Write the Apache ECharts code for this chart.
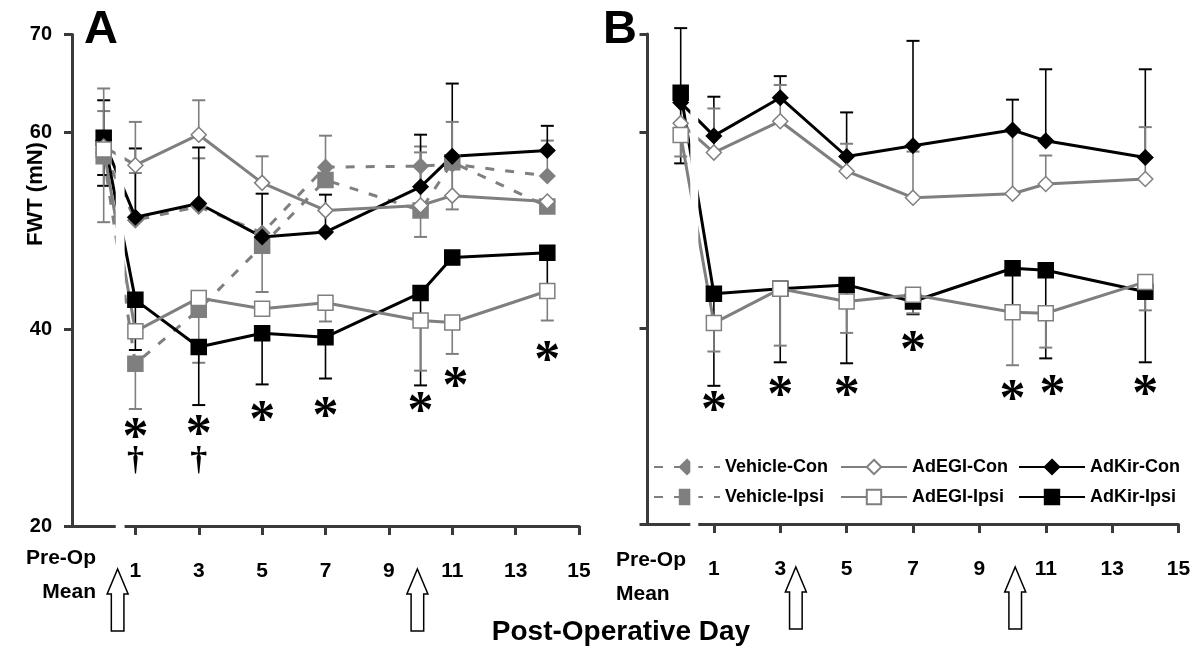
<!DOCTYPE html>
<html><head><meta charset="utf-8">
<script src="https://cdn.jsdelivr.net/npm/echarts@6/dist/echarts.min.js"></script>
<style>html,body{margin:0;padding:0;background:#fff}#c{width:1200px;height:665px}</style>
</head><body><div id="c"></div>
<script>
// ---------- data ----------
const days = [0, 1, 3, 5, 7, 10, 11, 14];
const xTicks = [1, 3, 5, 7, 9, 11, 13, 15];
const yTicks = [20, 40, 60, 70];

// Panel A means
const A_vehCon  = [58.0, 51.1, 52.5, 49.8, 56.5, 56.6, 56.8, 55.6];
const A_vehIpsi = [57.6, 36.5, 42.0, 48.5, 55.2, 52.1, 57.0, 52.5];
const A_egiCon  = [58.6, 56.7, 59.8, 54.9, 52.1, 52.6, 53.6, 53.0];
const A_egiIpsi = [58.3, 39.8, 43.2, 42.1, 42.7, 40.9, 40.7, 43.9];
const A_kirCon  = [59.2, 51.4, 52.8, 49.4, 49.9, 54.5, 57.6, 58.2];
const A_kirIpsi = [59.5, 43.0, 38.2, 39.6, 39.2, 43.7, 47.3, 47.8];
// Panel A error bars (upper / lower half-lengths)
const A_vehCon_up  = [4.2, 4.8, 4.9, 0, 3.2, 2.0, 0, 3.6];
const A_vehCon_dn  = [0, 0, 0, 0, 0, 0, 0, 0];
const A_vehIpsi_up = [0, 0, 0, 0, 0, 0, 0, 0];
const A_vehIpsi_dn = [0, 4.6, 5.4, 4.7, 0, 2.7, 4.8, 0];
const A_egiCon_up  = [5.9, 4.4, 3.5, 2.7, 0, 5.4, 7.5, 0];
const A_egiCon_dn  = [0, 0, 0, 0, 0, 0, 0, 0];
const A_egiIpsi_up = [0, 0, 0, 0, 0, 0, 0, 0];
const A_egiIpsi_dn = [7.4, 0, 0, 0, 1.9, 5.1, 3.2, 3.0];
const A_kirCon_up  = [4.1, 7.0, 5.7, 4.4, 3.8, 5.3, 7.4, 2.5];
const A_kirCon_dn  = [4.6, 0, 0, 0, 0, 0, 0, 0];
const A_kirIpsi_up = [0, 0, 0, 0, 0, 0, 0, 0];
const A_kirIpsi_dn = [3.8, 5.1, 5.9, 5.2, 4.2, 9.4, 0, 3.9];

// Panel B means
const B_egiCon  = [60.9, 57.9, 61.1, 56.0, 53.3, 53.7, 54.7, 55.2];
const B_egiIpsi = [59.7, 40.5, 44.0, 42.7, 43.4, 41.6, 41.5, 44.7];
const B_kirCon  = [63.0, 59.6, 63.5, 57.5, 58.6, 60.2, 59.1, 57.4];
const B_kirIpsi = [64.0, 43.5, 44.0, 44.4, 42.7, 46.1, 45.9, 43.7];
// Panel B error bars
const B_egiCon_up  = [0, 4.5, 3.7, 2.8, 4.7, 6.5, 2.9, 5.3];
const B_egiCon_dn  = [0, 0, 0, 0, 0, 0, 0, 0];
const B_egiIpsi_up = [0, 0, 0, 0, 0, 0, 0, 0];
const B_egiIpsi_dn = [2.2, 2.9, 5.8, 3.2, 1.9, 5.4, 3.5, 2.9];
const B_kirCon_up  = [0, 4.0, 2.2, 4.5, 10.7, 3.1, 7.3, 9.0];
const B_kirCon_dn  = [6.2, 0, 0, 0, 0, 0, 0, 0];
const B_kirIpsi_up = [6.6, 0, 0, 0, 0, 0, 0, 0];
const B_kirIpsi_dn = [0, 9.4, 7.5, 8.0, 1.3, 4.5, 9.0, 7.2];

// significance marks
const A_starDays = [1, 3, 5, 7, 10, 11.1, 14];
const A_starY    = [29.8, 30.1, 31.5, 31.9, 32.5, 35.0, 37.6];
const A_dagDays  = [1, 3];
const A_dagY     = [26.6, 26.6];
const B_starDays = [1, 3, 5, 7, 10, 11.2, 14];
const B_starY    = [32.4, 33.9, 33.9, 38.5, 33.5, 34.0, 34.0];
// injection arrows (day positions)
const A_arrowDays = [0.44, 9.9];
const B_arrowDays = [3.47, 10.08];
// axis break ranges
const A_break = [0.38, 0.66];
const B_break = [0.29, 0.53];

// ---------- styles ----------
const FONT = "'Liberation Sans', Arial, sans-serif";
const GRAY = '#7f7f7f';
const AXC = '#3a3a3a';
const styles = {
  'Vehicle-Con':  {symbol: 'diamond', size: 15, fill: GRAY, border: GRAY, line: GRAY, dash: [9, 11]},
  'Vehicle-Ipsi': {symbol: 'rect', size: 15, fill: GRAY, border: GRAY, line: GRAY, dash: [9, 11]},
  'AdEGI-Con':    {symbol: 'diamond', size: 15, fill: '#fff', border: GRAY, line: GRAY, dash: null},
  'AdEGI-Ipsi':   {symbol: 'rect', size: 15, fill: '#fff', border: GRAY, line: GRAY, dash: null},
  'AdKir-Con':    {symbol: 'diamond', size: 15, fill: '#000', border: '#000', line: '#000', dash: null},
  'AdKir-Ipsi':   {symbol: 'rect', size: 15, fill: '#000', border: '#000', line: '#000', dash: null}
};

function lineSeries(name, g, vals) {
  const s = styles[name];
  return {
    type: 'line', name, xAxisIndex: g, yAxisIndex: g, z: 3,
    data: days.map((d, i) => [d, vals[i]]),
    symbol: s.symbol, symbolSize: s.size, showAllSymbol: true,
    itemStyle: {color: s.fill, borderColor: s.border, borderWidth: 1.5, opacity: 1},
    lineStyle: {color: s.line, width: 3, type: s.dash || 'solid'},
    emphasis: {disabled: true}, animation: false, silent: true
  };
}
function errSeries(name, g, vals, up, dn) {
  const color = styles[name].line === '#000' ? '#000' : GRAY;
  return {
    type: 'custom', name: 'err-' + name, xAxisIndex: g, yAxisIndex: g, z: 2, silent: true,
    clip: false, animation: false,
    data: days.map((d, i) => [d, vals[i], up[i], dn[i]]),
    renderItem(params, api) {
      const x = api.value(0), m = api.value(1), u = api.value(2), d = api.value(3);
      if (!u && !d) return {type: 'group', children: []};
      const t = api.coord([x, m + u]), b = api.coord([x, m - d]);
      const cw = 6.5;
      const ch = [{type: 'line', shape: {x1: t[0], y1: t[1], x2: b[0], y2: b[1]}, style: {stroke: color, lineWidth: 1.6}}];
      if (u) ch.push({type: 'line', shape: {x1: t[0] - cw, y1: t[1], x2: t[0] + cw, y2: t[1]}, style: {stroke: color, lineWidth: 2}});
      if (d) ch.push({type: 'line', shape: {x1: b[0] - cw, y1: b[1], x2: b[0] + cw, y2: b[1]}, style: {stroke: color, lineWidth: 2}});
      return {type: 'group', children: ch};
    }
  };
}
function textSeries(g, xs, ys, ch, font, dy) {
  return {
    type: 'custom', xAxisIndex: g, yAxisIndex: g, z: 5, silent: true, clip: false, animation: false,
    data: xs.map((x, i) => [x, ys[i]]),
    renderItem(params, api) {
      const p = api.coord([api.value(0), api.value(1)]);
      return {type: 'text', x: p[0], y: p[1] + dy,
        style: {text: ch, font, fill: '#000', align: 'center', verticalAlign: 'middle'}};
    }
  };
}
function breakSeries(g, br) {
  return {
    type: 'custom', xAxisIndex: g, yAxisIndex: g, z: 10, silent: true, clip: false, animation: false,
    data: [[br[0], br[1]]],
    renderItem(params, api) {
      const p0 = api.coord([api.value(0), 70]), p1 = api.coord([api.value(1), 20]);
      return {type: 'rect', shape: {x: p0[0], y: p0[1] - 4, width: p1[0] - p0[0], height: p1[1] - p0[1] + 8},
        style: {fill: '#fff'}};
    }
  };
}

function xAxisCfg(g) {
  return {
    type: 'value', gridIndex: g, min: -1, max: 15,
    axisLine: {show: true, onZero: false, lineStyle: {color: AXC, width: 3}},
    axisTick: {show: true, customValues: xTicks, length: 9, lineStyle: {color: AXC, width: 3}},
    axisLabel: {show: true, customValues: xTicks, margin: 35, fontSize: 21, fontWeight: 'bold', color: '#000', fontFamily: FONT},
    splitLine: {show: false}
  };
}
function yAxisCfg(g, labels) {
  return {
    type: 'value', gridIndex: g, min: 20, max: 70,
    axisLine: {show: true, onZero: false, lineStyle: {color: AXC, width: 3}},
    axisTick: {show: true, customValues: yTicks, length: 8, lineStyle: {color: AXC, width: 3}},
    axisLabel: {show: labels, customValues: yTicks, margin: 20, fontSize: 20, fontWeight: 'bold', color: '#000', fontFamily: FONT},
    splitLine: {show: false}
  };
}

const series = [
  errSeries('Vehicle-Con', 0, A_vehCon, A_vehCon_up, A_vehCon_dn),
  errSeries('Vehicle-Ipsi', 0, A_vehIpsi, A_vehIpsi_up, A_vehIpsi_dn),
  errSeries('AdKir-Con', 0, A_kirCon, A_kirCon_up, A_kirCon_dn),
  errSeries('AdKir-Ipsi', 0, A_kirIpsi, A_kirIpsi_up, A_kirIpsi_dn),
  errSeries('AdEGI-Con', 0, A_egiCon, A_egiCon_up, A_egiCon_dn),
  errSeries('AdEGI-Ipsi', 0, A_egiIpsi, A_egiIpsi_up, A_egiIpsi_dn),
  lineSeries('Vehicle-Con', 0, A_vehCon),
  lineSeries('Vehicle-Ipsi', 0, A_vehIpsi),
  lineSeries('AdKir-Con', 0, A_kirCon),
  lineSeries('AdKir-Ipsi', 0, A_kirIpsi),
  lineSeries('AdEGI-Con', 0, A_egiCon),
  lineSeries('AdEGI-Ipsi', 0, A_egiIpsi),
  errSeries('AdKir-Con', 1, B_kirCon, B_kirCon_up, B_kirCon_dn),
  errSeries('AdKir-Ipsi', 1, B_kirIpsi, B_kirIpsi_up, B_kirIpsi_dn),
  errSeries('AdEGI-Con', 1, B_egiCon, B_egiCon_up, B_egiCon_dn),
  errSeries('AdEGI-Ipsi', 1, B_egiIpsi, B_egiIpsi_up, B_egiIpsi_dn),
  lineSeries('AdKir-Con', 1, B_kirCon),
  lineSeries('AdKir-Ipsi', 1, B_kirIpsi),
  lineSeries('AdEGI-Con', 1, B_egiCon),
  lineSeries('AdEGI-Ipsi', 1, B_egiIpsi),
  textSeries(0, A_starDays, A_starY, '*', "bold 52px 'Liberation Serif', serif", 10),
  textSeries(0, A_dagDays, A_dagY, '\u2020', "bold 34px 'Liberation Serif', serif", 0),
  textSeries(1, B_starDays, B_starY, '*', "bold 52px 'Liberation Serif', serif", 10),
  breakSeries(0, A_break),
  breakSeries(1, B_break)
];

const legendNames = [['Vehicle-Con', 'AdEGI-Con', 'AdKir-Con'], ['Vehicle-Ipsi', 'AdEGI-Ipsi', 'AdKir-Ipsi']];
const legendLeft = [653, 840, 1018];
const legendTop = [458, 488];
const legends = [];
legendNames.forEach((row, r) => row.forEach((n, c) => legends.push({
  data: [n], left: legendLeft[c], top: legendTop[r], padding: 0, itemWidth: 66, itemHeight: 18,
  selectedMode: false, textStyle: {fontSize: 18, fontWeight: 'bold', color: '#000', fontFamily: FONT}
})));

const txt = (t, x, y, font, align, rot) => ({type: 'text', x, y, rotation: rot || 0, z: 20,
  style: {text: t, font, fill: '#000', align: align || 'center', verticalAlign: 'middle'}});

const chart = echarts.init(document.getElementById('c'), null, {renderer: 'canvas'});
const option = {
  backgroundColor: '#fff',
  animation: false,
  grid: [
    {left: 72, top: 34.4, width: 507, height: 491.6},
    {left: 647.5, top: 34, width: 531, height: 490}
  ],
  xAxis: [xAxisCfg(0), xAxisCfg(1)],
  yAxis: [yAxisCfg(0, true), yAxisCfg(1, false)],
  legend: legends,
  series
};
chart.setOption(option);

// annotations (texts + arrows)
const gfx = [
  txt('A', 101, 30, "bold 47px " + FONT),
  txt('B', 620, 30, "bold 47px " + FONT),
  txt('FWT (mN)', 36, 194, "bold 22px " + FONT, 'center', Math.PI / 2),
  txt('Post-Operative Day', 621, 632, "bold 28px " + FONT),
  txt('Pre-Op', 96, 558, "bold 21px " + FONT, 'right'),
  txt('Mean', 96, 592, "bold 21px " + FONT, 'right'),
  txt('Pre-Op', 616, 560, "bold 21px " + FONT, 'left'),
  txt('Mean', 616, 594, "bold 21px " + FONT, 'left')
];
function arrow(g, day) {
  const p = chart.convertToPixel({gridIndex: g}, [day, 20]);
  const cx = p[0], ty = p[1] + 43;
  return {type: 'polygon', z: 20, shape: {points: [
    [cx, ty], [cx + 10.5, ty + 25], [cx + 6.3, ty + 25], [cx + 6.3, ty + 62],
    [cx - 6.3, ty + 62], [cx - 6.3, ty + 25], [cx - 10.5, ty + 25]]},
    style: {fill: '#fff', stroke: '#000', lineWidth: 1.5}};
}
A_arrowDays.forEach(d => gfx.push(arrow(0, d)));
B_arrowDays.forEach(d => gfx.push(arrow(1, d)));
chart.setOption({graphic: gfx});
</script>
</body></html>
